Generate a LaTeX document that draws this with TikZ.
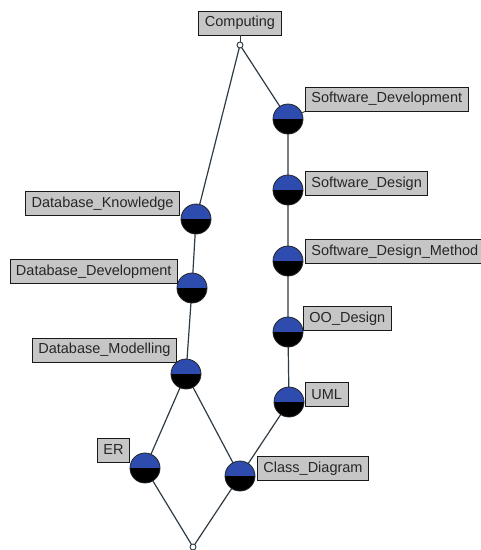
\documentclass[tikz,border=0pt]{standalone}
\usepackage{fontspec}
\setmainfont{Liberation Sans}
\definecolor{conceptblue}{HTML}{2E4BAE}
\definecolor{edgecol}{HTML}{2E3B44}
\definecolor{boxgray}{HTML}{C6C6C6}
\begin{document}
\begin{tikzpicture}[x=1pt,y=-1pt,
  concept/.style={circle, minimum size=30pt, inner sep=0pt, draw=black!85, line width=0.8pt,
    fill=conceptblue,
    path picture={\fill[black] (path picture bounding box.west) rectangle (path picture bounding box.south east);}},
  endpt/.style={circle, minimum size=6pt, inner sep=0pt, draw=edgecol, line width=0.9pt, fill=white},
  lbl/.style={draw=black!90, line width=0.9pt, fill=boxgray, inner xsep=6pt, inner ysep=0pt,
    minimum height=24pt, font=\fontsize{14.5}{16}\selectfont, text=black!85},
  edge/.style={draw=edgecol, line width=1.2pt},
  leader/.style={draw=edgecol, line width=0.9pt, dashed, dash pattern=on 3pt off 2pt}]
\useasboundingbox (0,0) rectangle (481,550);

% lattice elements
\coordinate (top) at (240,45);
\coordinate (sd) at (288,119);
\coordinate (sdes) at (288,190);
\coordinate (sdm) at (288,261);
\coordinate (oo) at (288,332);
\coordinate (uml) at (289,402);
\coordinate (cd) at (240,476);
\coordinate (dbk) at (196,219);
\coordinate (dbd) at (192,288);
\coordinate (dbm) at (186,374);
\coordinate (er) at (145,468);
\coordinate (bot) at (193,547);

% order relation
\draw[edge] (top) -- (sd);
\draw[edge] (top) -- (dbk);
\draw[edge] (sd) -- (sdes) -- (sdm) -- (oo) -- (uml) -- (cd);
\draw[edge] (dbk) -- (dbd) -- (dbm);
\draw[edge] (dbm) -- (er);
\draw[edge] (dbm) -- (cd);
\draw[edge] (er) -- (bot);
\draw[edge] (cd) -- (bot);

% labels
\node[lbl] (compL) at (240,23) {Computing};
\node[lbl, anchor=west] (sdL) at (305,99) {Software\_Development};
\node[lbl, anchor=west] (sdesL) at (305,183.5) {Software\_Design};
\node[lbl, anchor=west] (sdmL) at (305,251.5) {Software\_Design\_Method};
\node[lbl, anchor=west] (ooL) at (303,318.5) {OO\_Design};
\node[lbl, anchor=west] (umlL) at (305,394.5) {UML};
\node[lbl, anchor=west] (cdL) at (257,468.5) {Class\_Diagram};
\node[lbl, anchor=east] (dbkL) at (180,203.5) {Database\_Knowledge};
\node[lbl, anchor=east] (dbdL) at (178,271.5) {Database\_Development};
\node[lbl, anchor=east] (dbmL) at (177,350) {Database\_Modelling};
\node[lbl, anchor=east] (erL) at (130,450) {ER};

% label leaders
\draw[edgecol, line width=0.9pt] (compL.south) -- (top);
\draw[leader] (sdL.south west) -- (sd);
\draw[leader] (dbmL.south east) -- (dbm);

% concept nodes
\node[endpt] (topN) at (top) {};
\node[endpt] (botN) at (bot) {};
\node[concept] (sdN) at (sd) {};
\node[concept] (sdesN) at (sdes) {};
\node[concept] (sdmN) at (sdm) {};
\node[concept] (ooN) at (oo) {};
\node[concept] (umlN) at (uml) {};
\node[concept] (cdN) at (cd) {};
\node[concept] (dbkN) at (dbk) {};
\node[concept] (dbdN) at (dbd) {};
\node[concept] (dbmN) at (dbm) {};
\node[concept] (erN) at (er) {};
\end{tikzpicture}
\end{document}
